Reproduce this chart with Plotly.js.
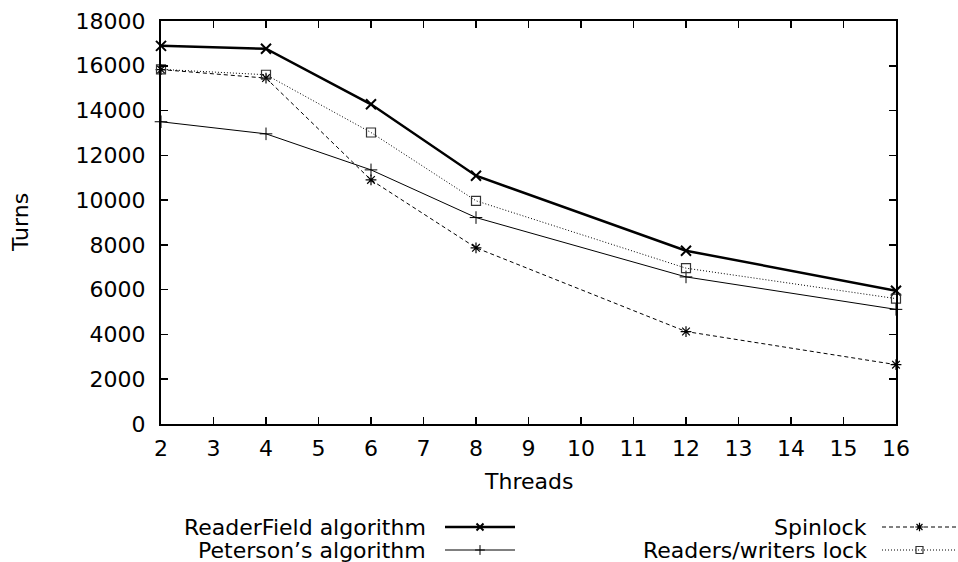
<!DOCTYPE html>
<html>
<head>
<meta charset="utf-8">
<script src="https://cdn.plot.ly/plotly-3.0.1.min.js"></script>
<style>html,body{margin:0;padding:0;background:#fff;}#chart{width:958px;height:562px;}</style>
</head>
<body>
<div id="chart"></div>
<script>
// ---- data ----
var threads = [2, 4, 6, 8, 12, 16];
var readerField = [16890, 16760, 14280, 11090, 7740, 5950];
var peterson = [13500, 12960, 11350, 9220, 6570, 5120];
var spinlock = [15830, 15450, 10900, 7870, 4130, 2650];
var rwLock = [15840, 15600, 13020, 9970, 6960, 5600];
var seriesNames = ["ReaderField algorithm", "Peterson\u2019s algorithm", "Spinlock", "Readers/writers lock"];
var xTicks = [2, 3, 4, 5, 6, 7, 8, 9, 10, 11, 12, 13, 14, 15, 16];
var yTicks = [0, 2000, 4000, 6000, 8000, 10000, 12000, 14000, 16000, 18000];

var W = 958, H = 562;
var FONT = {family: "DejaVu Sans, Liberation Sans, Arial, sans-serif", size: 22, color: "#000"};
// plot box in pixels
var box = {l: 161, r: 896, t: 21, b: 424};

var styles = [
  {line: {color: "#000", width: 2.5}, marker: {symbol: "x-thin-open", size: 10, color: "#000", line: {width: 2, color: "#000"}}},
  {line: {color: "#000", width: 1}, marker: {symbol: "cross-thin-open", size: 9, color: "#000", line: {width: 1, color: "#000"}}},
  {line: {color: "#000", width: 1, dash: "4px,3px"}, marker: {symbol: "asterisk-open", size: 9, color: "#000", line: {width: 1.2, color: "#000"}}},
  {line: {color: "#000", width: 1, dash: "1px,2px"}, marker: {symbol: "square-open", size: 9, color: "#333", line: {width: 1.2, color: "#333"}}}
];
var legendMarkerSize = [7, 7, 7, 7];
var values = [readerField, peterson, spinlock, rwLock];

var traces = [];
values.forEach(function (v, i) {
  traces.push({
    x: threads, y: v, type: "scatter", mode: "lines+markers",
    name: seriesNames[i], line: styles[i].line, marker: styles[i].marker,
    showlegend: false, cliponaxis: false, xaxis: "x", yaxis: "y"
  });
});

// custom legend (gnuplot style: text then sample), drawn on a full-page pixel axis
var legendPos = [
  {textRight: 428, x0: 445, x1: 515, y: 527},
  {textRight: 428, x0: 445, x1: 515, y: 550},
  {textRight: 869, x0: 882, x1: 957, y: 527},
  {textRight: 869, x0: 882, x1: 957, y: 550}
];
var annotations = [];
legendPos.forEach(function (p, i) {
  traces.push({
    x: [p.x0, p.x1], y: [p.y, p.y], type: "scatter", mode: "lines",
    line: styles[i].line, showlegend: false, hoverinfo: "skip",
    xaxis: "x2", yaxis: "y2", cliponaxis: false
  });
  var m = JSON.parse(JSON.stringify(styles[i].marker));
  m.size = legendMarkerSize[i];
  traces.push({
    x: [(p.x0 + p.x1) / 2], y: [p.y], type: "scatter", mode: "markers",
    marker: m, showlegend: false, hoverinfo: "skip",
    xaxis: "x2", yaxis: "y2", cliponaxis: false
  });
  annotations.push({
    xref: "x2", yref: "y2", x: p.textRight, y: p.y, text: seriesNames[i],
    xanchor: "right", yanchor: "middle", showarrow: false, font: FONT
  });
});
annotations.push({xref: "x2", yref: "y2", x: 528, y: 481, text: "Threads",
  xanchor: "center", yanchor: "middle", showarrow: false, font: FONT});
annotations.push({xref: "x2", yref: "y2", x: 20, y: 223, text: "Turns", textangle: -90,
  xanchor: "center", yanchor: "middle", showarrow: false, font: FONT});

var layout = {
  width: W, height: H,
  margin: {l: 0, r: 0, t: 0, b: 0},
  paper_bgcolor: "#fff", plot_bgcolor: "rgba(0,0,0,0)",
  font: FONT,
  showlegend: false,
  xaxis: {
    domain: [box.l / W, box.r / W], anchor: "y",
    range: [2, 16], tickvals: xTicks, ticktext: xTicks.map(String),
    ticks: "inside", ticklen: 7, tickwidth: 1.5, tickcolor: "#000",
    showline: true, linewidth: 2, linecolor: "#000", mirror: "ticks",
    showgrid: false, zeroline: false, tickfont: FONT, ticklabelstandoff: 4,
    fixedrange: true
  },
  yaxis: {
    domain: [1 - box.b / H, 1 - box.t / H], anchor: "x",
    range: [0, 18000], tickvals: yTicks, ticktext: yTicks.map(String),
    ticks: "inside", ticklen: 7, tickwidth: 1.5, tickcolor: "#000",
    showline: true, linewidth: 2, linecolor: "#000", mirror: "ticks",
    showgrid: false, zeroline: false, tickfont: FONT, ticklabelstandoff: 9,
    fixedrange: true
  },
  xaxis2: {domain: [0, 1], range: [0, W], visible: false, anchor: "y2", fixedrange: true},
  yaxis2: {domain: [0, 1], range: [H, 0], visible: false, anchor: "x2", fixedrange: true},
  annotations: annotations
};

Plotly.newPlot("chart", traces, layout, {displayModeBar: false, staticPlot: true});
</script>
</body>
</html>
